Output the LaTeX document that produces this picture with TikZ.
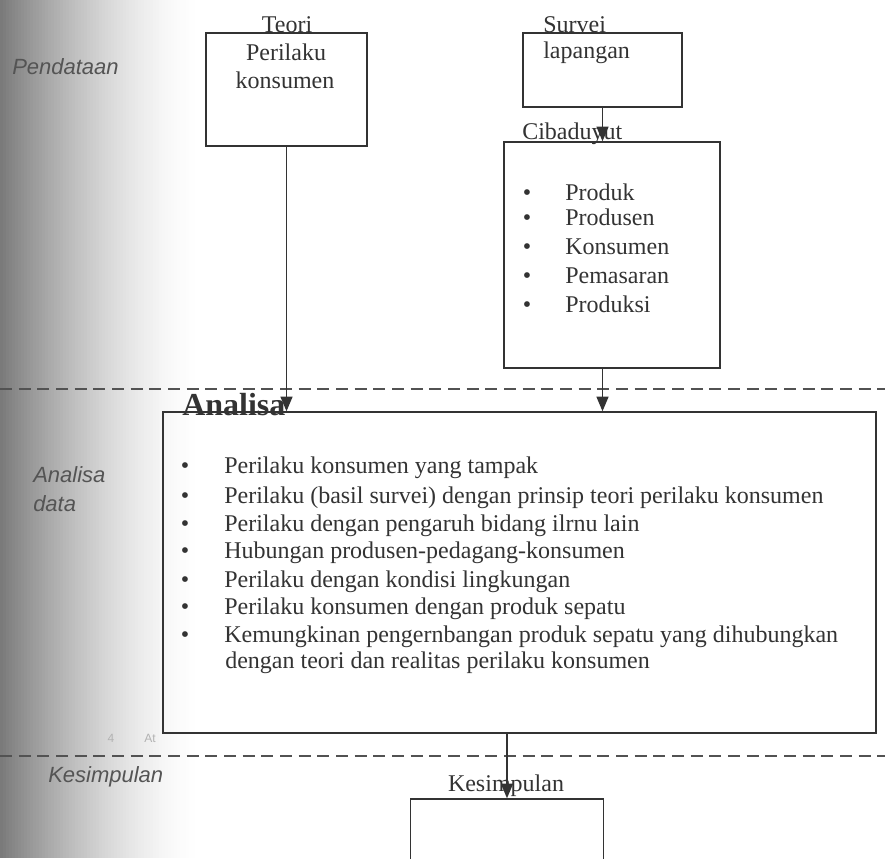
\documentclass[tikz,border=0pt]{standalone}
\usepackage{fontspec}
\setmainfont{Liberation Serif}
\setsansfont{Liberation Sans}
\usetikzlibrary{arrows.meta,calc,positioning}
\definecolor{ink}{gray}{0.2}
\definecolor{sideink}{gray}{0.33}
\tikzstyle{arrow} = [-{Triangle[length=11pt,width=9pt]}, line width=1.1pt, draw=ink]
\tikzstyle{box} = [draw=ink, line width=1.1pt, inner sep=0pt]
\tikzstyle{txt} = [inner sep=0pt, text=ink, font=\fontsize{18}{21}\selectfont]
\tikzstyle{sidetxt} = [inner sep=0pt, text=sideink, anchor=base west, font=\sffamily\itshape\fontsize{16.5}{20}\selectfont]
\tikzstyle{sep} = [draw=ink!85, line width=1.1pt, dash pattern=on 9pt off 5pt]

\begin{document}
\begin{tikzpicture}[x=0.75pt, y=-0.75pt]
    \useasboundingbox (0,0) rectangle (885,858);
    \clip (0,0) rectangle (885,858);
    % Scan shadow
    \foreach \i in {0,3,...,198} {
        \pgfmathsetmacro{\pct}{52*(1-\i/200)^1.6}
        \fill[black!\pct] (\i,0) rectangle (\i+3.4,858);
    }

    % Separators
    \draw[sep] (0,389) -- (885,389);
    \draw[sep] (0,756) -- (885,756);

    % Side labels
    \node[sidetxt] (pendataan) at (12,74) {Pendataan};
    \node[sidetxt] (analisaS) at (33,482) {Analisa};
    \node[sidetxt] (dataS) at (33,511) {data};
    \node[sidetxt] (kesimpulanS) at (48,782) {Kesimpulan};
    \node[txt, text=black!30, font=\sffamily\fontsize{9}{10}\selectfont, anchor=base] (pageno) at (111,742) {4};
    \node[txt, text=black!30, font=\sffamily\fontsize{9}{10}\selectfont, anchor=base] (pagemark) at (150,742) {At};

    % Teori
    \node[box, minimum width=120.75pt, minimum height=84.75pt] (teori) at (286.5,89.5) {};
    \node[txt, anchor=base] (teori1) at (287,32) {Teori};
    \node[txt, anchor=base] (teori2) at (286,60) {Perilaku};
    \node[txt, anchor=base] (teori3) at (285,88) {konsumen};

    % Survei
    \node[box, minimum width=119.25pt, minimum height=55.5pt] (survei) at (602.5,70) {};
    \node[txt, anchor=base west] (survei1) at (543,32) {Survei};
    \node[txt, anchor=base west] (survei2) at (543,58) {lapangan};

    % Cibaduyut
    \node[box, minimum width=162pt, minimum height=169.5pt] (cibaduyut) at (612,255) {};
    \node[txt, anchor=base west] (cibtitle) at (522,139) {Cibaduyut};
    \foreach \y/\entry in {200/Produk,225/Produsen,254/Konsumen,283/Pemasaran,312/Produksi} {
        \node[txt, anchor=base] (cibdot\y) at (527,\y) {\textbullet};
        \node[txt, anchor=base west] (cibitem\y) at (565,\y) {\entry};
    }

    % Analisa
    \node[box, minimum width=534.75pt, minimum height=240.75pt] (analisa) at (519.5,572.5) {};
    \node[txt, anchor=base west, font=\bfseries\fontsize{24}{28}\selectfont] (anatitle) at (182,415) {Analisa};
    \foreach \y/\entry in {473/{Perilaku konsumen yang tampak},
                           503/{Perilaku (basil survei) dengan prinsip teori perilaku konsumen},
                           531/{Perilaku dengan pengaruh bidang ilrnu lain},
                           558/{Hubungan produsen-pedagang-konsumen},
                           587/{Perilaku dengan kondisi lingkungan},
                           614/{Perilaku konsumen dengan produk sepatu},
                           642/{Kemungkinan pengernbangan produk sepatu yang dihubungkan}} {
        \node[txt, anchor=base] (anadot\y) at (185,\y) {\textbullet};
        \node[txt, anchor=base west] (anaitem\y) at (224,\y) {\entry};
    }
    \node[txt, anchor=base west] (anaitem668) at (225,668) {dengan teori dan realitas perilaku konsumen};

    % Kesimpulan
    \node[box, minimum width=144.75pt, minimum height=61.5pt] (kesimpulan) at (507,840) {};
    \node[txt, anchor=base] (kestitle) at (506,791) {Kesimpulan};

    % Arrows
    \draw[arrow] (teori.south) -- (teori.south |- analisa.north);
    \draw[arrow] (survei.south) -- (survei.south |- cibaduyut.north);
    \draw[arrow] (cibaduyut.south -| survei.south) -- (survei.south |- analisa.north);
    \draw[arrow] (analisa.south -| kesimpulan.north) -- (kesimpulan.north);
\end{tikzpicture}
\end{document}
